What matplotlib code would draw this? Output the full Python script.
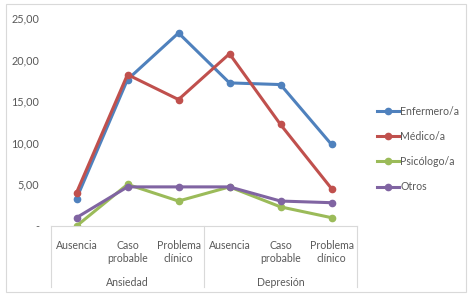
import numpy as np
import matplotlib.pyplot as plt
from matplotlib.patches import Rectangle
from matplotlib.lines import Line2D

plt.rcParams['font.family'] = ['Lato', 'DejaVu Sans']

categorias = ['Ausencia', 'Caso\nprobable', 'Problema\nclínico',
              'Ausencia', 'Caso\nprobable', 'Problema\nclínico']
grupos = ['Ansiedad', 'Depresión']
series = ['Enfermero/a', 'Médico/a', 'Psicólogo/a', 'Otros']
enfermero = [3.3, 17.6, 23.2, 17.2, 17.0, 9.8]
medico = [4.0, 18.2, 15.2, 20.7, 12.2, 4.5]
psicologo = [0.0, 5.0, 3.0, 4.7, 2.3, 1.0]
otros = [1.0, 4.7, 4.7, 4.7, 3.0, 2.8]
colores = ['#4F81BD', '#C0504D', '#9BBB59', '#8064A2']
yticks = [0, 5, 10, 15, 20, 25]
ytick_labels = ['-', '5,00', '10,00', '15,00', '20,00', '25,00']

W, H = 473, 300
fig = plt.figure(figsize=(W / 100, H / 100), dpi=100)
ax = fig.add_axes([51 / W, 1 - 226 / H, 306 / W, 208 / H])

x = np.arange(len(categorias))
for vals, nombre, c in zip([enfermero, medico, psicologo, otros], series, colores):
    ax.plot(x, vals, color=c, lw=2.2, marker='o', ms=4.5, label=nombre)

ax.set_xlim(-0.5, 5.5)
ax.set_ylim(0, 25)
ax.set_yticks(yticks)
ax.set_yticklabels(ytick_labels, fontsize=7.8, color='#595959')
ax.tick_params(axis='y', length=0, pad=8.5)
ax.set_xticks([])
for s in ['top', 'right', 'left']:
    ax.spines[s].set_visible(False)
ax.spines['bottom'].set_color('#d9d9d9')

# etiquetas de categoria y grupo
for i, cat in enumerate(categorias):
    ax.text(i, -0.065, cat, transform=ax.get_xaxis_transform(), ha='center', va='top',
            fontsize=7.6, color='#595959', linespacing=1.3)
for j, g in enumerate(grupos):
    ax.text(1 + 3 * j, -0.245, g, transform=ax.get_xaxis_transform(), ha='center', va='top',
            fontsize=7.6, color='#595959')
for xs in [51, 204, 357]:
    fig.add_artist(Line2D([xs / W, xs / W], [1 - 226 / H, 1 - 287 / H], color='#d9d9d9', lw=0.8))

fig.add_artist(Rectangle((6 / W, 1 - 292 / H), 460 / W, 288 / H, fill=False,
                         edgecolor='#d9d9d9', lw=0.8))

fig.legend(loc='center left', bbox_to_anchor=(367 / W, 1 - 149 / H), frameon=False,
           fontsize=7.6, labelcolor='#595959', handlelength=2.1, handletextpad=0.15,
           labelspacing=1.35)

fig.savefig('out.png', dpi=100)
